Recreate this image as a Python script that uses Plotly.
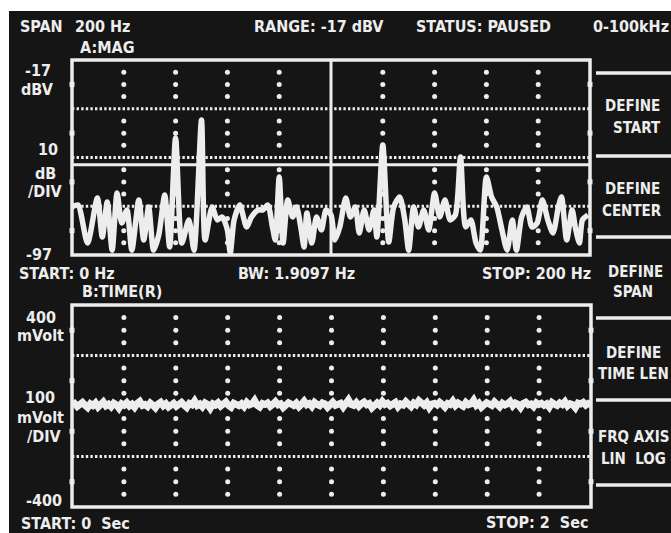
import plotly.graph_objects as go

# ---------------- data ----------------
# Channel A: magnitude spectrum (Hz, dBV)
spec_freq = [0, 2.3, 6.0, 9.8, 11.7, 13.6, 15.5, 17.4, 19.2, 21.2, 23.1, 25.8, 27.7, 29.6,
             31.5, 33.5, 35.8, 37.7, 40.0, 42.4, 45.1, 47.1, 50.0, 51.4, 54.1, 56.1, 58.0,
             60.0, 61.1, 62.6, 64.8, 67.4, 69.3, 71.9, 73.7, 75.6, 77.4, 78.5, 80.0, 81.5,
             83.3, 85.2, 86.7, 88.5, 89.6, 90.7, 92.6, 94.4, 96.3, 98.1, 100.0, 101.5, 103.4,
             105.7, 107.5, 109.4, 110.9, 112.8, 114.7, 116.6, 117.7, 120.0, 122.3, 124.2,
             126.5, 128.5, 130.0, 131.9, 133.8, 135.8, 137.7, 140.0, 142.0, 144.0, 146.0,
             148.0, 150.0, 152.0, 154.0, 156.0, 157.6, 160.0, 162.0, 164.0, 166.0, 168.0,
             170.0, 171.6, 173.6, 175.6, 177.6, 179.6, 181.6, 183.7, 185.7, 187.8, 189.0,
             191.0, 193.1, 194.3, 195.9, 197.1, 199.2]
spec_db = [-77.3, -76.5, -92.1, -73.6, -89.6, -75.3, -95.0, -71.6, -83.9, -78.5, -95.0, -74.4,
           -90.8, -77.3, -95.0, -88.8, -72.4, -93.7, -49.0, -92.1, -82.6, -95.0, -41.6, -90.8,
           -77.3, -82.6, -81.4, -86.7, -96.2, -82.6, -76.5, -85.5, -81.4, -78.5, -78.5, -76.5,
           -85.5, -90.8, -65.0, -92.1, -74.4, -81.4, -77.3, -86.7, -93.7, -79.8, -92.1, -81.4,
           -86.7, -78.5, -80.6, -90.8, -85.5, -73.6, -81.4, -77.3, -88.0, -78.5, -86.7, -78.5,
           -89.6, -51.9, -91.7, -77.3, -73.2, -82.6, -95.0, -77.3, -85.5, -78.5, -86.7, -71.6,
           -81.4, -74.4, -82.6, -80.6, -56.8, -85.5, -82.6, -92.1, -95.0, -65.0, -73.2, -77.3,
           -86.7, -95.0, -82.6, -95.0, -81.4, -77.3, -85.5, -83.9, -74.4, -82.6, -88.0, -77.3,
           -73.2, -90.8, -78.5, -85.5, -92.1, -82.6, -80.6]

# Channel B: time record (mV) over 2 s
time_mv = [4, 10, -2, 8, 14, 3, -6, 9, 2, 12, -4, 6, 16, 1, 7, -3, 11, 5, -8, 9,
           3, 13, 0, 7, -5, 10, 18, 2, 6, -2, 12, 4, -7, 8, 15, 1, 9, -4, 6, 11,
           -1, 7, 14, 3, -6, 10, 5, 20, 2, 8, -3, 12, 6, -9, 9, 4, 13, 0, 7, 16,
           2, -5, 11, 6, 1, 9, -2, 14, 4, 8, 22, 3, -4, 10, 6, 12, -1, 7, 17, 5,
           9, -6, 4, 13, 8, 2, 11, -3, 7, 19, 5, 10, -2, 14, 6, 1, 12, 8, -5, 9,
           15, 3, 7, 11, -4, 8, 24, 6, 2, 13, -1, 9, 16, 5, 10, -7, 7, 12, 3, 18,
           6, 11, 1, 9, 14, -3, 8, 4, 17, 7, -2, 12, 5, 21, 9, 3, 13, -6, 8, 11,
           4, 15, 7, -4, 10, 6, 19, 2, 12, 8, -1, 14, 5, 9, 23, 3, 11, -5, 7, 13,
           8, 2, 16, 6, -3, 11, 4, 9, 18, 1, 12, 7, -6, 10, 15, 5, 8, -2, 13, 6,
           11, 3, 9, -4, 14, 7, 2, 12, 6, 17, 0, 9, 5, -7, 11, 8, 14, 3, 10, 6]
time_stop = 2.0
time_s = [time_stop * i / (len(time_mv) - 1) for i in range(len(time_mv))]

# Graticule
freq_cols = [20, 40, 60, 80, 120, 140, 160, 180]
freq_marker = 100
db_lines = [-37, -57, -77]
db_dots = [-22, -27, -32, -42, -47, -52, -62, -67, -72, -82, -87, -92]
db_edge = [-27, -47, -67, -87]
db_ref = -60
time_cols = [0.2, 0.4, 0.6, 0.8, 1.0, 1.2, 1.4, 1.6, 1.8]
mv_lines = [200, -200]
mv_dots = [350, 300, 250, 150, 100, 50, -50, -100, -150, -250, -300, -350]
mv_edge = [300, 100, -100, -300]

W, H = 671, 533
BG = "#151515"
FG = "#ededed"
FONT = "DejaVu Sans Condensed"


def px(x, y):
    return x / W, 1 - y / H


fig = go.Figure()

# --- spectrum panel (x, y) ---
gx = [f for f in freq_cols for _ in db_dots]
gy = [d for _ in freq_cols for d in db_dots]
fig.add_trace(go.Scatter(x=gx, y=gy, mode="markers", xaxis="x", yaxis="y",
                         marker=dict(color=FG, size=5, symbol="circle"),
                         hoverinfo="skip", showlegend=False))
fig.add_trace(go.Scatter(x=[0] * len(db_edge) + [200] * len(db_edge), y=db_edge * 2,
                         mode="markers", xaxis="x", yaxis="y", cliponaxis=False,
                         marker=dict(color=FG, size=5, symbol="square"),
                         hoverinfo="skip", showlegend=False))
fig.add_trace(go.Scatter(x=spec_freq, y=spec_db, mode="lines", xaxis="x", yaxis="y",
                         line=dict(color=FG, width=5.5, shape="spline", smoothing=0.7),
                         hoverinfo="skip", showlegend=False))

# --- time panel (x2, y2) ---
tx = [t for t in time_cols for _ in mv_dots]
ty = [m for _ in time_cols for m in mv_dots]
fig.add_trace(go.Scatter(x=tx, y=ty, mode="markers", xaxis="x2", yaxis="y2",
                         marker=dict(color=FG, size=5, symbol="circle"),
                         hoverinfo="skip", showlegend=False))
fig.add_trace(go.Scatter(x=[0] * len(mv_edge) + [2] * len(mv_edge), y=mv_edge * 2,
                         mode="markers", xaxis="x2", yaxis="y2", cliponaxis=False,
                         marker=dict(color=FG, size=5, symbol="square"),
                         hoverinfo="skip", showlegend=False))
fig.add_trace(go.Scatter(x=time_s, y=time_mv, mode="lines", xaxis="x2", yaxis="y2",
                         line=dict(color=FG, width=7),
                         hoverinfo="skip", showlegend=False))

shapes = []
# screen background (white photo border at top/left)
x0, _ = px(9, 0)
_, y1 = px(0, 11)
shapes.append(dict(type="rect", xref="paper", yref="paper", x0=x0, x1=1, y0=0, y1=y1,
                   fillcolor=BG, line=dict(width=0), layer="below"))

dotted = "2.4px,2.2px"
for d in db_lines:
    shapes.append(dict(type="line", xref="x domain", yref="y", x0=0, x1=1, y0=d, y1=d,
                       line=dict(color=FG, width=2.8, dash=dotted)))
for m in mv_lines:
    shapes.append(dict(type="line", xref="x2 domain", yref="y2", x0=0, x1=1, y0=m, y1=m,
                       line=dict(color=FG, width=2.8, dash=dotted)))
# reference level and center marker
shapes.append(dict(type="line", xref="x domain", yref="y", x0=0, x1=1, y0=db_ref, y1=db_ref,
                   line=dict(color=FG, width=3)))
shapes.append(dict(type="line", xref="x", yref="y domain", x0=freq_marker, x1=freq_marker,
                   y0=0, y1=1, line=dict(color=FG, width=3)))
# panel frames
for ax in ("x", "x2"):
    ay = "y" if ax == "x" else "y2"
    shapes.append(dict(type="rect", xref=f"{ax} domain", yref=f"{ay} domain",
                       x0=0, x1=1, y0=0, y1=1, line=dict(color=FG, width=3.5)))
# softkey separators
for yy in [73, 156, 237, 318, 400, 485]:
    xa, ya = px(596, yy)
    shapes.append(dict(type="line", xref="paper", yref="paper", x0=xa, x1=1, y0=ya, y1=ya,
                       line=dict(color=FG, width=3.5)))

# screen text: (text, x px, y px, size)
labels = [
    ("SPAN", 41, 27, 16), ("200 Hz", 102, 27, 16), ("A:MAG", 107, 48, 16),
    ("RANGE: -17 dBV", 319, 27, 16), ("STATUS: PAUSED", 483, 27, 16),
    ("0-100kHz", 631, 27, 16),
    ("-17", 38, 71, 16), ("dBV", 37, 89, 16),
    ("10", 48, 150, 16), ("dB", 45, 173, 16), ("/DIV", 45, 191, 16),
    ("-97", 39, 254, 16),
    ("START: 0 Hz", 67, 273, 16), ("BW: 1.9097 Hz", 296, 273, 16),
    ("STOP: 200 Hz", 536, 273, 16), ("B:TIME(R)", 122, 291, 16),
    ("400", 41, 317, 16), ("mVolt", 40, 335, 16),
    ("100", 40, 397, 16), ("mVolt", 40, 417, 16), ("/DIV", 44, 436, 16),
    ("-400", 44, 500, 16),
    ("START: 0  Sec", 75, 523, 16), ("STOP: 2  Sec", 537, 522, 16),
    ("DEFINE", 632, 106, 15), ("START", 637, 128, 15),
    ("DEFINE", 632, 189, 15), ("CENTER", 632, 211, 15),
    ("DEFINE", 635, 272, 15), ("SPAN", 633, 292, 15),
    ("DEFINE", 633, 353, 15), ("TIME LEN", 633, 374, 15),
    ("FRQ AXIS", 633, 437, 15), ("LIN  LOG", 633, 459, 15),
]
annotations = []
for text, x, y, size in labels:
    xa, ya = px(x, y)
    annotations.append(dict(text=text, x=xa, y=ya, xref="paper", yref="paper",
                            xanchor="center", yanchor="middle", showarrow=False,
                            font=dict(family=FONT, size=size, color=FG, weight="bold")))

ax_common = dict(showgrid=False, zeroline=False, showticklabels=False, ticks="",
                 showline=False, fixedrange=True)
fig.update_layout(
    width=W, height=H, margin=dict(l=0, r=0, t=0, b=0),
    paper_bgcolor="white", plot_bgcolor=BG,
    xaxis=dict(domain=[72 / W, 590 / W], range=[0, 200], anchor="y", **ax_common),
    yaxis=dict(domain=[1 - 255 / H, 1 - 60 / H], range=[-97, -17], anchor="x", **ax_common),
    xaxis2=dict(domain=[72 / W, 591 / W], range=[0, time_stop], anchor="y2", **ax_common),
    yaxis2=dict(domain=[1 - 507 / H, 1 - 305 / H], range=[-400, 400], anchor="x2", **ax_common),
    shapes=shapes, annotations=annotations, showlegend=False,
)

fig.write_html("out.html")
